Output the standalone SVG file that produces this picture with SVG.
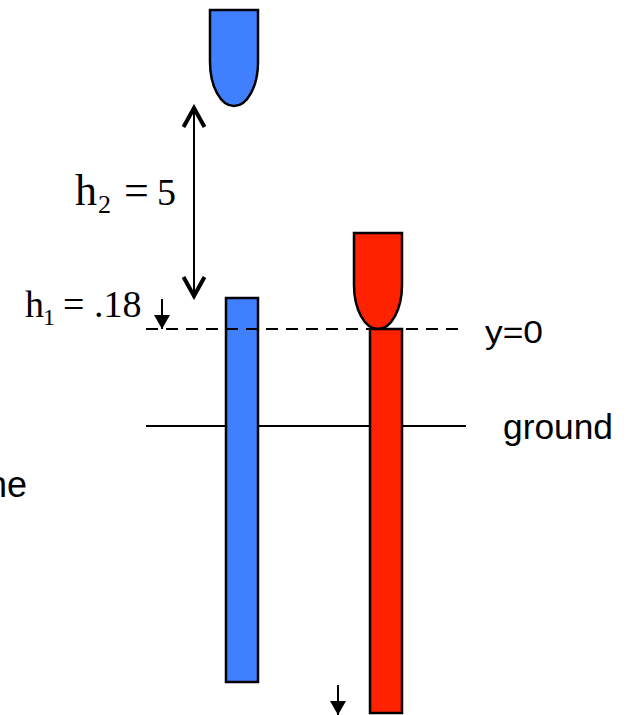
<svg xmlns="http://www.w3.org/2000/svg" width="637" height="715" viewBox="0 0 637 715">
<style>
.serif{font-family:"Liberation Serif","Times New Roman",serif;fill:#000}
.sans{font-family:"Liberation Sans",Arial,sans-serif;fill:#000}
.blue{fill:#4080FF;stroke:#000;stroke-width:2.5}
.red{fill:#FF2200;stroke:#000;stroke-width:2.5}
.ln{stroke:#000;stroke-width:2;fill:none}
</style>
<defs>
<marker id="chev" markerUnits="userSpaceOnUse" viewBox="-24 -14 28 28" markerWidth="28" markerHeight="28" refX="0" refY="0" orient="auto-start-reverse">
<path d="M-19,-10.5 L0,0 L-19,10.5" fill="none" stroke="#000" stroke-width="4" stroke-linejoin="miter"/>
</marker>
<marker id="tri" markerUnits="userSpaceOnUse" viewBox="-16 -10 18 20" markerWidth="18" markerHeight="20" refX="0" refY="0" orient="auto">
<path d="M-14,-8 L0,0 L-14,8 Z" fill="#000"/>
</marker>
</defs>
<rect width="637" height="715" fill="#fff"/>

<g id="ground-line"><line class="ln" x1="146" y1="426" x2="466" y2="426"/></g>

<g id="blue-cap"><path class="blue" d="M210,10 H258 V62 A24,44 0 0 1 210,62 Z"/></g>
<g id="blue-rod"><rect class="blue" x="226" y="298" width="32" height="384"/></g>
<g id="red-cap"><path class="red" d="M354,233 H402 V285 A24,44 0 0 1 354,285 Z"/></g>
<g id="red-rod"><rect class="red" x="370" y="329" width="32" height="384"/></g>

<g id="y0-line"><line x1="146" y1="329" x2="466" y2="329" stroke="#000" stroke-width="2" stroke-dasharray="12,8"/></g>

<g id="connectors">
<line class="ln" x1="194" y1="108" x2="194" y2="296" marker-start="url(#chev)" marker-end="url(#chev)"/>
<line class="ln" x1="162" y1="299" x2="162" y2="329" marker-end="url(#tri)"/>
<line class="ln" x1="338" y1="685" x2="338" y2="715" marker-end="url(#tri)"/>
</g>

<g id="label-h2">
<text class="serif" x="75" y="205" font-size="44">h</text>
<text class="serif" x="98" y="213" font-size="26">2</text>
<text class="serif" x="124" y="205" font-size="44">=</text>
<text class="serif" x="157" y="205" font-size="38">5</text>
</g>
<g id="label-h1">
<text class="serif" x="25" y="317" font-size="38">h</text>
<text class="serif" x="43" y="325" font-size="24">1</text>
<text class="serif" x="63" y="317" font-size="38">= .18</text>
</g>
<g id="label-y0"><text class="sans" x="485" y="343" font-size="32" textLength="58" lengthAdjust="spacingAndGlyphs">y=0</text></g>
<g id="label-ground"><text class="sans" x="503" y="439" font-size="35" textLength="110" lengthAdjust="spacingAndGlyphs">ground</text></g>
<g id="label-ne"><text class="sans" x="27" y="497" font-size="36" text-anchor="end">ne</text></g>
</svg>
